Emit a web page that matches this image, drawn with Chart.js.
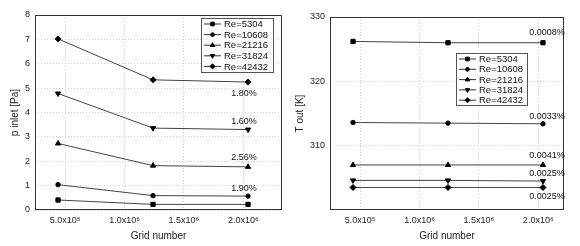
<!DOCTYPE html>
<html>
<head>
<meta charset="utf-8">
<script src="https://cdn.jsdelivr.net/npm/chart.js@4.4.1/dist/chart.umd.min.js"></script>
<style>
  body { margin: 0; background: #fff; }
  .wrap { display: flex; width: 580px; height: 246px; }
  canvas { display: block; }
</style>
</head>
<body>
<div class="wrap">
  <canvas id="pin" width="290" height="246"></canvas>
  <canvas id="tout" width="290" height="246"></canvas>
</div>
<script>
// grid sizes tested (x axis)
const gridNumbers = [4.4e5, 1.24e6, 2.04e6];
const xTicks = [5e5, 1e6, 1.5e6, 2e6];
const xTickLabels = ["5.0x10\u2075", "1.0x10\u2076", "1.5x10\u2076", "2.0x10\u2076"];

const seriesNames = ["Re=5304", "Re=10608", "Re=21216", "Re=31824", "Re=42432"];

// inlet pressure [Pa]
const p5304 = [0.41, 0.23, 0.23];
const p10608 = [1.04, 0.59, 0.57];
const p21216 = [2.73, 1.82, 1.77];
const p31824 = [4.78, 3.36, 3.30];
const p42432 = [7.02, 5.34, 5.25];
const pTicks = [0, 1, 2, 3, 4, 5, 6, 7, 8];
const pPercent = ["", "1.90%", "2.56%", "1.60%", "1.80%"];

// outlet temperature [K]
const t5304 = [326.2, 326.0, 326.0];
const t10608 = [313.6, 313.5, 313.4];
const t21216 = [307.0, 307.0, 307.0];
const t31824 = [304.6, 304.6, 304.5];
const t42432 = [303.5, 303.5, 303.5];
const tTicks = [310, 320, 330];
const tPercent = ["0.0008%", "0.0033%", "0.0041%", "0.0025%", "0.0025%"];

const markers = [
  { style: "rect", rot: 0, r: 3 },
  { style: "circle", rot: 0, r: 2.2 },
  { style: "triangle", rot: 0, r: 3 },
  { style: "triangle", rot: 180, r: 3 },
  { style: "rectRot", rot: 0, r: 3 },
];

const FONT = "'Liberation Sans', Arial, sans-serif";

function buildDatasets(values) {
  return values.map((arr, i) => ({
    label: seriesNames[i],
    data: gridNumbers.map((g, k) => ({ x: g, y: arr[k] })),
    borderColor: "#444",
    borderWidth: 1,
    pointStyle: markers[i].style,
    pointRotation: markers[i].rot,
    pointRadius: markers[i].r,
    pointBackgroundColor: "#000",
    pointBorderColor: "#000",
    pointBorderWidth: 1,
  }));
}

// frame, in-plot legend and percentage labels
const extras = {
  id: "extras",
  afterDatasetsDraw(chart, args, o) {
    const ctx = chart.ctx;
    const a = chart.chartArea;
    ctx.save();
    ctx.strokeStyle = "#333";
    ctx.lineWidth = 1;
    ctx.strokeRect(Math.round(a.left) + 0.5, Math.round(a.top) + 0.5,
      Math.round(a.right - a.left) - 1, Math.round(a.bottom - a.top) - 1);

    // percentage labels next to the last point of each series
    ctx.font = "9px " + FONT;
    ctx.fillStyle = "#111";
    ctx.textAlign = "center";
    ctx.textBaseline = "middle";
    chart.data.datasets.forEach((ds, i) => {
      const txt = o.percent[i];
      if (!txt) return;
      const pt = chart.getDatasetMeta(i).data[ds.data.length - 1];
      ctx.fillText(txt, pt.x + o.dx, pt.y + o.dy[i]);
    });

    // legend box
    const L = o.legend;
    ctx.fillStyle = "#fff";
    ctx.fillRect(L.x, L.y, L.w, L.h);
    ctx.strokeStyle = "#555";
    ctx.strokeRect(L.x + 0.5, L.y + 0.5, L.w, L.h);
    ctx.font = "9.5px " + FONT;
    ctx.textAlign = "left";
    chart.data.datasets.forEach((ds, i) => {
      const y = L.y + 6 + i * L.row;
      ctx.strokeStyle = "#333";
      ctx.beginPath();
      ctx.moveTo(L.x + 3, y);
      ctx.lineTo(L.x + 20, y);
      ctx.stroke();
      ctx.fillStyle = "#000";
      ctx.strokeStyle = "#000";
      Chart.helpers.drawPoint(ctx, { pointStyle: ds.pointStyle, rotation: ds.pointRotation, radius: ds.pointRadius * 0.85, borderWidth: 1 }, L.x + 11.5, y);
      ctx.fillStyle = "#111";
      ctx.fillText(ds.label, L.x + 23, y + 0.5);
    });
    ctx.restore();
  },
};

function makeChart(id, values, cfg) {
  return new Chart(document.getElementById(id), {
    type: "line",
    data: { datasets: buildDatasets(values) },
    plugins: [extras],
    options: {
      responsive: false,
      animation: false,
      devicePixelRatio: 1,
      layout: { padding: { top: cfg.top, right: cfg.right, left: 0, bottom: 0 } },
      plugins: {
        legend: { display: false },
        tooltip: { enabled: false },
        extras: cfg.extras,
      },
      scales: {
        x: {
          type: "linear",
          min: cfg.xMin,
          max: cfg.xMax,
          afterBuildTicks: (s) => { s.ticks = xTicks.map((v) => ({ value: v })); },
          afterFit: (s) => { s.height = 36; },
          grid: { color: "#d0d0d0", drawTicks: false },
          border: { display: false, dash: [1, 2] },
          ticks: {
            autoSkip: false, maxRotation: 0, padding: 5, color: "#222",
            font: { family: FONT, size: 9 },
            callback: (v, i) => xTickLabels[i],
          },
          title: {
            display: true, text: "Grid number", color: "#222",
            font: { family: FONT, size: 10 }, padding: { top: 0, bottom: 4 },
          },
        },
        y: {
          min: cfg.yMin,
          max: cfg.yMax,
          afterBuildTicks: (s) => { s.ticks = cfg.yTicks.map((v) => ({ value: v })); },
          afterFit: (s) => { s.width = cfg.yWidth; },
          grid: { color: "#d0d0d0", drawTicks: false },
          border: { display: false, dash: [1, 2] },
          ticks: { padding: 5, color: "#222", font: { family: FONT, size: 9 } },
          title: {
            display: true, text: cfg.yTitle, color: "#222",
            font: { family: FONT, size: 10 }, padding: { top: cfg.titlePad, bottom: 0 },
          },
        },
      },
    },
  });
}

makeChart("pin", [p5304, p10608, p21216, p31824, p42432], {
  top: 15, right: 8, yWidth: 35, titlePad: 9,
  xMin: 2.46e5, xMax: 2.326e6, yMin: 0, yMax: 8, yTicks: pTicks,
  yTitle: "p inlet [Pa]",
  extras: {
    percent: pPercent, dx: -4, dy: [0, -8, -9, -8, 11],
    legend: { x: 201, y: 18, w: 72, h: 54, row: 10.6 },
  },
});

makeChart("tout", [t5304, t10608, t21216, t31824, t42432], {
  top: 17, right: 16, yWidth: 40, titlePad: 4,
  xMin: 2.46e5, xMax: 2.217e6, yMin: 300, yMax: 330, yTicks: tTicks,
  yTitle: "T out [K]",
  extras: {
    percent: tPercent, dx: 4, dy: [-10, -7, -9, -8, 9],
    legend: { x: 166, y: 53, w: 71, h: 52, row: 10.3 },
  },
});
</script>
</body>
</html>
